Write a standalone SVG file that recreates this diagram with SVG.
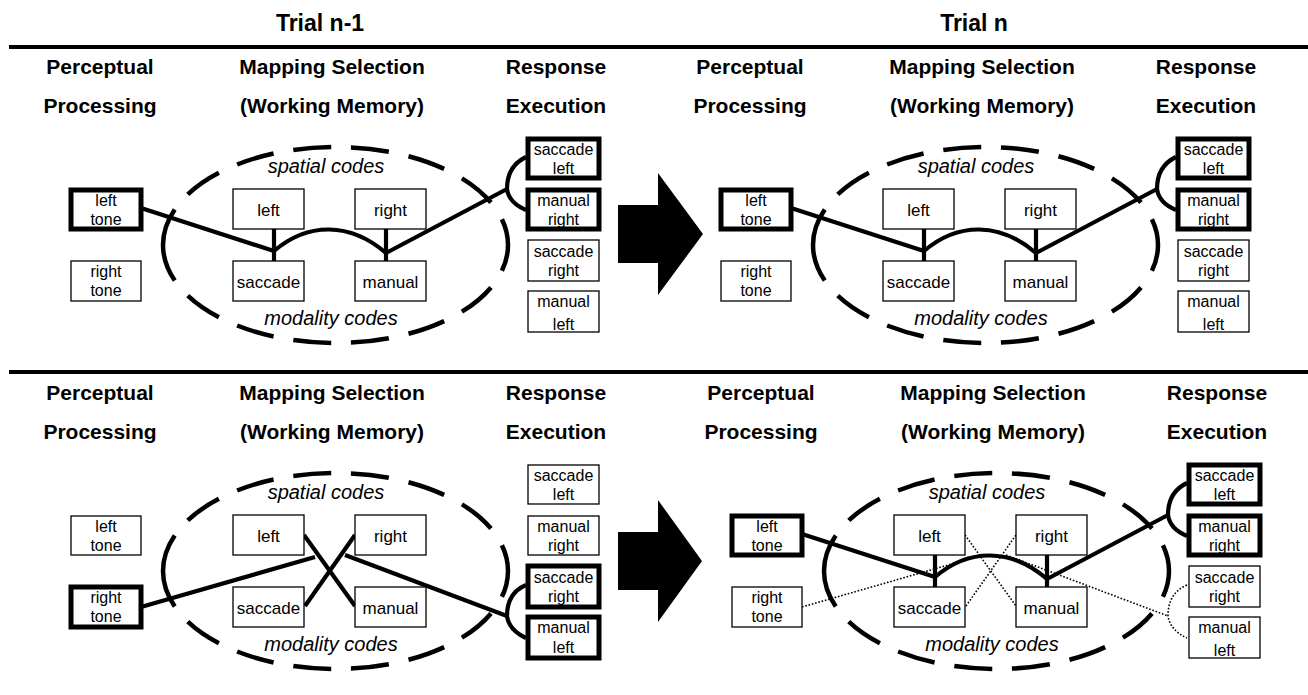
<svg xmlns="http://www.w3.org/2000/svg" width="1308" height="695" viewBox="0 0 1308 695">
<style>
text{font-family:"Liberation Sans",Arial,Helvetica,sans-serif;fill:#000;text-anchor:middle}
.title{font-size:23px;font-weight:bold}
.hdr{font-size:21px;font-weight:bold}
.code{font-size:20px;font-style:italic}
.bt{font-size:16px}
.mt{font-size:17px}
.box{fill:#fff;stroke:#000;stroke-width:1.3}
.thick{stroke-width:5}
.ell{fill:none;stroke:#000;stroke-width:4.5;stroke-dasharray:38 20}
.con{fill:none;stroke:#000;stroke-width:4.2}
.dot{fill:none;stroke:#000;stroke-width:1.6;stroke-dasharray:1.6 1.8}
.rule{stroke:#000;stroke-width:4}
</style>
<defs>
<g id="ellipse-shape">
<path class="ell" d="M163,245 A172.5,98 0 0 1 508,245"/>
<path class="ell" d="M163,245 A172.5,98 0 0 0 508,245"/>
<text class="code" x="326" y="173">spatial codes</text>
<text class="code" x="331" y="325">modality codes</text>
</g>
<g id="headers">
<text class="hdr" x="100" y="74">Perceptual</text>
<text class="hdr" x="100" y="113">Processing</text>
<text class="hdr" x="332" y="74">Mapping Selection</text>
<text class="hdr" x="332" y="113">(Working Memory)</text>
<text class="hdr" x="556" y="74">Response</text>
<text class="hdr" x="556" y="113">Execution</text>
</g>
<g id="path-a">
<path d="M141,208 L274,251"/>
<path d="M274,229 L274,261"/>
<path d="M274,251 C308,222 350,222 386,253"/>
<path d="M386,229 L386,261"/>
<path d="M386,253 L507,189"/>
<path d="M526,157 Q507,166 507,189 Q509,203 526,210"/>
</g>
<g id="path-b">
<path d="M141,281 L315,231"/>
<path d="M304,209 L355,280"/>
<path d="M305,280 L355,209"/>
<path d="M345,229 L507,290"/>
<path d="M526,259 Q507,267 507,290 Q509,304 526,312"/>
</g>
</defs>

<g id="titles">
<text class="title" x="320" y="31">Trial n-1</text>
<text class="title" x="974" y="31">Trial n</text>
<line class="rule" x1="9" y1="47" x2="1308" y2="47"/>
<line class="rule" x1="9" y1="372" x2="1308" y2="372"/>
</g>

<g id="arrow-top"><polygon points="618,205 658,205 658,173 703,234 658,295 658,263 618,263" fill="#000"/></g>
<g id="arrow-bottom"><polygon points="618,532 658,532 658,500 702,561 658,622 658,590 618,590" fill="#000"/></g>

<!-- headers and working-memory ellipses -->
<g id="headers-tl"><use href="#headers"/></g>
<g id="headers-tr" transform="translate(650,0)"><use href="#headers"/></g>
<g id="headers-bl" transform="translate(0,326)"><use href="#headers"/></g>
<g id="headers-br" transform="translate(661,326)"><use href="#headers"/></g>

<g id="wm-tl"><use href="#ellipse-shape"/></g>
<g id="wm-tr" transform="translate(650,0)"><use href="#ellipse-shape"/></g>
<g id="wm-bl" transform="translate(0,326)"><use href="#ellipse-shape"/></g>
<g id="wm-br" transform="translate(661,326)"><use href="#ellipse-shape"/></g>

<g id="connectors">
<g class="con"><use href="#path-a"/></g>
<g class="con" transform="translate(650,0)"><use href="#path-a"/></g>
<g class="con" transform="translate(0,326)"><use href="#path-b"/></g>
<g class="dot" transform="translate(661,326)"><use href="#path-b"/></g>
<g class="con" transform="translate(661,326)"><use href="#path-a"/></g>
</g>

<!-- Panel: top-left (Trial n-1) -->
<g id="panel-tl">
<g id="tl-left-tone"><rect class="box thick" x="71" y="190" width="70" height="39"/><text class="bt" x="106" y="205.5">left</text><text class="bt" x="106" y="224.5">tone</text></g>
<g id="tl-right-tone"><rect class="box" x="71" y="261" width="70" height="40"/><text class="bt" x="106" y="277">right</text><text class="bt" x="106" y="296">tone</text></g>
<g id="tl-left"><rect class="box" x="233" y="189" width="71" height="40"/><text class="mt" x="268.5" y="216">left</text></g>
<g id="tl-right"><rect class="box" x="355" y="189" width="71" height="40"/><text class="mt" x="390.5" y="216">right</text></g>
<g id="tl-saccade"><rect class="box" x="233" y="261" width="71" height="40"/><text class="mt" x="268.5" y="288">saccade</text></g>
<g id="tl-manual"><rect class="box" x="355" y="261" width="71" height="40"/><text class="mt" x="390.5" y="288">manual</text></g>
<g id="tl-saccade-left"><rect class="box thick" x="528" y="139" width="71" height="39"/><text class="bt" x="563.5" y="154.5">saccade</text><text class="bt" x="563.5" y="173.5">left</text></g>
<g id="tl-manual-right"><rect class="box thick" x="528" y="190" width="71" height="39"/><text class="bt" x="563.5" y="205.5">manual</text><text class="bt" x="563.5" y="224.5">right</text></g>
<g id="tl-saccade-right"><rect class="box" x="528" y="240" width="71" height="41"/><text class="bt" x="563.5" y="256.5">saccade</text><text class="bt" x="563.5" y="275.5">right</text></g>
<g id="tl-manual-left"><rect class="box" x="528" y="291" width="71" height="41"/><text class="bt" x="563.5" y="306.5">manual</text><text class="bt" x="563.5" y="329.5">left</text></g>
</g>

<!-- Panel: top-right (Trial n) -->
<g id="panel-tr" transform="translate(650,0)">
<g id="tr-left-tone"><rect class="box thick" x="71" y="190" width="70" height="39"/><text class="bt" x="106" y="205.5">left</text><text class="bt" x="106" y="224.5">tone</text></g>
<g id="tr-right-tone"><rect class="box" x="71" y="261" width="70" height="40"/><text class="bt" x="106" y="277">right</text><text class="bt" x="106" y="296">tone</text></g>
<g id="tr-left"><rect class="box" x="233" y="189" width="71" height="40"/><text class="mt" x="268.5" y="216">left</text></g>
<g id="tr-right"><rect class="box" x="355" y="189" width="71" height="40"/><text class="mt" x="390.5" y="216">right</text></g>
<g id="tr-saccade"><rect class="box" x="233" y="261" width="71" height="40"/><text class="mt" x="268.5" y="288">saccade</text></g>
<g id="tr-manual"><rect class="box" x="355" y="261" width="71" height="40"/><text class="mt" x="390.5" y="288">manual</text></g>
<g id="tr-saccade-left"><rect class="box thick" x="528" y="139" width="71" height="39"/><text class="bt" x="563.5" y="154.5">saccade</text><text class="bt" x="563.5" y="173.5">left</text></g>
<g id="tr-manual-right"><rect class="box thick" x="528" y="190" width="71" height="39"/><text class="bt" x="563.5" y="205.5">manual</text><text class="bt" x="563.5" y="224.5">right</text></g>
<g id="tr-saccade-right"><rect class="box" x="528" y="240" width="71" height="41"/><text class="bt" x="563.5" y="256.5">saccade</text><text class="bt" x="563.5" y="275.5">right</text></g>
<g id="tr-manual-left"><rect class="box" x="528" y="291" width="71" height="41"/><text class="bt" x="563.5" y="306.5">manual</text><text class="bt" x="563.5" y="329.5">left</text></g>
</g>

<!-- Panel: bottom-left (Trial n-1) -->
<g id="panel-bl" transform="translate(0,326)">
<g id="bl-left-tone"><rect class="box" x="71" y="190" width="70" height="39"/><text class="bt" x="106" y="205.5">left</text><text class="bt" x="106" y="224.5">tone</text></g>
<g id="bl-right-tone"><rect class="box thick" x="71" y="261" width="70" height="40"/><text class="bt" x="106" y="277">right</text><text class="bt" x="106" y="296">tone</text></g>
<g id="bl-left"><rect class="box" x="233" y="189" width="71" height="40"/><text class="mt" x="268.5" y="216">left</text></g>
<g id="bl-right"><rect class="box" x="355" y="189" width="71" height="40"/><text class="mt" x="390.5" y="216">right</text></g>
<g id="bl-saccade"><rect class="box" x="233" y="261" width="71" height="40"/><text class="mt" x="268.5" y="288">saccade</text></g>
<g id="bl-manual"><rect class="box" x="355" y="261" width="71" height="40"/><text class="mt" x="390.5" y="288">manual</text></g>
<g id="bl-saccade-left"><rect class="box" x="528" y="139" width="71" height="39"/><text class="bt" x="563.5" y="154.5">saccade</text><text class="bt" x="563.5" y="173.5">left</text></g>
<g id="bl-manual-right"><rect class="box" x="528" y="190" width="71" height="39"/><text class="bt" x="563.5" y="205.5">manual</text><text class="bt" x="563.5" y="224.5">right</text></g>
<g id="bl-saccade-right"><rect class="box thick" x="528" y="240" width="71" height="41"/><text class="bt" x="563.5" y="256.5">saccade</text><text class="bt" x="563.5" y="275.5">right</text></g>
<g id="bl-manual-left"><rect class="box thick" x="528" y="291" width="71" height="41"/><text class="bt" x="563.5" y="306.5">manual</text><text class="bt" x="563.5" y="326.5">left</text></g>
</g>

<!-- Panel: bottom-right (Trial n) -->
<g id="panel-br" transform="translate(661,326)">
<g id="br-left-tone"><rect class="box thick" x="71" y="190" width="70" height="39"/><text class="bt" x="106" y="205.5">left</text><text class="bt" x="106" y="224.5">tone</text></g>
<g id="br-right-tone"><rect class="box" x="71" y="261" width="70" height="40"/><text class="bt" x="106" y="277">right</text><text class="bt" x="106" y="296">tone</text></g>
<g id="br-left"><rect class="box" x="233" y="189" width="71" height="40"/><text class="mt" x="268.5" y="216">left</text></g>
<g id="br-right"><rect class="box" x="355" y="189" width="71" height="40"/><text class="mt" x="390.5" y="216">right</text></g>
<g id="br-saccade"><rect class="box" x="233" y="261" width="71" height="40"/><text class="mt" x="268.5" y="288">saccade</text></g>
<g id="br-manual"><rect class="box" x="355" y="261" width="71" height="40"/><text class="mt" x="390.5" y="288">manual</text></g>
<g id="br-saccade-left"><rect class="box thick" x="528" y="139" width="71" height="39"/><text class="bt" x="563.5" y="154.5">saccade</text><text class="bt" x="563.5" y="173.5">left</text></g>
<g id="br-manual-right"><rect class="box thick" x="528" y="190" width="71" height="39"/><text class="bt" x="563.5" y="205.5">manual</text><text class="bt" x="563.5" y="224.5">right</text></g>
<g id="br-saccade-right"><rect class="box" x="528" y="240" width="71" height="41"/><text class="bt" x="563.5" y="256.5">saccade</text><text class="bt" x="563.5" y="275.5">right</text></g>
<g id="br-manual-left"><rect class="box" x="528" y="291" width="71" height="41"/><text class="bt" x="563.5" y="306.5">manual</text><text class="bt" x="563.5" y="329.5">left</text></g>
</g>
</svg>
